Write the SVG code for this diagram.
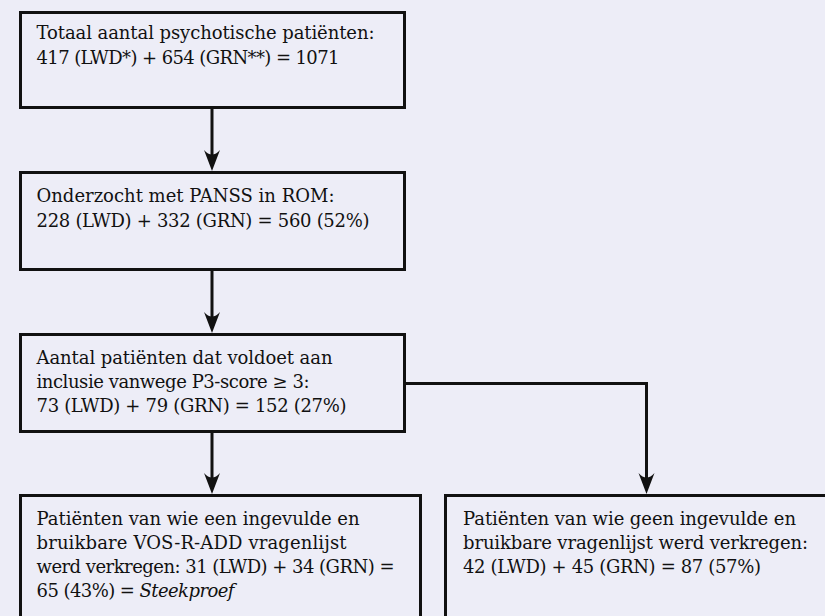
<svg xmlns="http://www.w3.org/2000/svg" width="825" height="616" viewBox="0 0 825 616">
  <defs>
    <marker id="arr" markerUnits="userSpaceOnUse" markerWidth="26" markerHeight="20" viewBox="-23 -10 26 20" refX="-10" refY="0" orient="auto">
      <path d="M0,0 L-21,-8 Q-12,0 -21,8 Z" fill="#111"/>
    </marker>
  </defs>
  <style>
    .box { fill: #EDEDF7; stroke: #111; stroke-width: 3; }
    .t { font-family: "DejaVu Serif", "Liberation Serif", serif; font-size: 18px; fill: #111; }
    .conn { fill: none; stroke: #111; stroke-width: 3; }
  </style>
  <rect x="0" y="0" width="825" height="616" fill="#EDEDF7"/>

  <g id="connectors">
    <line class="conn" x1="212" y1="107.5" x2="212" y2="161" marker-end="url(#arr)"/>
    <line class="conn" x1="212" y1="269.5" x2="212" y2="323" marker-end="url(#arr)"/>
    <line class="conn" x1="212" y1="431.5" x2="212" y2="484" marker-end="url(#arr)"/>
    <polyline class="conn" points="404.5,383.5 646.5,383.5 646.5,484" marker-end="url(#arr)"/>
  </g>

  <g id="n1">
    <rect class="box" x="20.5" y="12.5" width="384" height="95"/>
    <text class="t" x="36.5" y="38.5" textLength="338">Totaal aantal psychotische patiënten:</text>
    <text class="t" x="36.5" y="63.5" textLength="303">417 (LWD*) + 654 (GRN**) = 1071</text>
  </g>

  <g id="n2">
    <rect class="box" x="20.5" y="172.5" width="384" height="97"/>
    <text class="t" x="36.5" y="201.5" textLength="298">Onderzocht met PANSS in ROM:</text>
    <text class="t" x="36.5" y="226.5" textLength="333">228 (LWD) + 332 (GRN) = 560 (52%)</text>
  </g>

  <g id="n3">
    <rect class="box" x="20.5" y="334.5" width="384" height="97"/>
    <text class="t" x="36.5" y="363.5" textLength="296">Aantal patiënten dat voldoet aan</text>
    <text class="t" x="36.5" y="387.5" textLength="273">inclusie vanwege P3-score ≥ 3:</text>
    <text class="t" x="36.5" y="411.5" textLength="310">73 (LWD) + 79 (GRN) = 152 (27%)</text>
  </g>

  <g id="n4">
    <rect class="box" x="20.5" y="495.5" width="400" height="150"/>
    <text class="t" x="36.5" y="525" textLength="323">Patiënten van wie een ingevulde en</text>
    <text class="t" x="36.5" y="549" textLength="310">bruikbare VOS-R-ADD vragenlijst</text>
    <text class="t" x="36.5" y="573" textLength="358">werd verkregen: 31 (LWD) + 34 (GRN) =</text>
    <text class="t" x="36.5" y="597" textLength="198">65 (43%) = <tspan font-style="italic">Steekproef</tspan></text>
  </g>

  <g id="n5">
    <rect class="box" x="445.5" y="495.5" width="400" height="150"/>
    <text class="t" x="463" y="525" textLength="333">Patiënten van wie geen ingevulde en</text>
    <text class="t" x="463" y="549" textLength="345">bruikbare vragenlijst werd verkregen:</text>
    <text class="t" x="463" y="573" textLength="298">42 (LWD) + 45 (GRN) = 87 (57%)</text>
  </g>
</svg>
